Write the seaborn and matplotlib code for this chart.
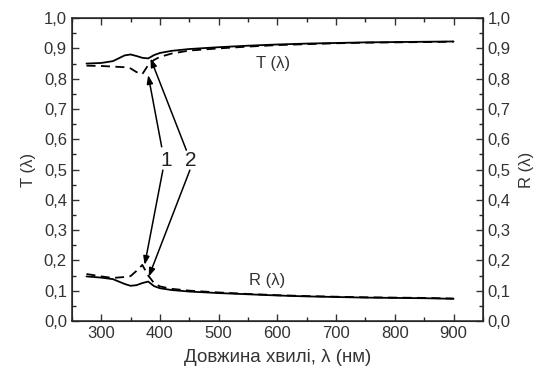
import numpy as np
import pandas as pd
import matplotlib
matplotlib.use("Agg")
import matplotlib.pyplot as plt
from matplotlib.ticker import MultipleLocator, FuncFormatter
import seaborn as sns

# -----------------------------
# Data
# -----------------------------
wavelength = [275, 300, 320, 340, 350, 360, 370, 380, 390, 400, 420, 450,
              500, 550, 600, 650, 700, 750, 800, 850, 900]

T_1 = [0.850, 0.852, 0.858, 0.877, 0.880, 0.875, 0.869, 0.867, 0.878, 0.885, 0.892, 0.898,
       0.904, 0.909, 0.913, 0.916, 0.918, 0.920, 0.921, 0.922, 0.923]
T_2 = [0.843, 0.842, 0.840, 0.838, 0.834, 0.822, 0.815, 0.845, 0.862, 0.872, 0.883, 0.893,
       0.900, 0.906, 0.911, 0.914, 0.917, 0.919, 0.920, 0.921, 0.922]

R_1 = [0.147, 0.143, 0.138, 0.122, 0.116, 0.118, 0.125, 0.130, 0.115, 0.108, 0.102, 0.097,
       0.092, 0.088, 0.084, 0.081, 0.079, 0.077, 0.076, 0.075, 0.073]
R_2 = [0.155, 0.147, 0.142, 0.145, 0.148, 0.165, 0.185, 0.150, 0.125, 0.114, 0.106, 0.100,
       0.094, 0.089, 0.085, 0.082, 0.080, 0.078, 0.077, 0.076, 0.074]

# -----------------------------
# Style
# -----------------------------
sns.set_style("ticks")
plt.rcParams['font.family'] = ['Liberation Sans', 'DejaVu Sans']
plt.rcParams['xtick.direction'] = 'in'
plt.rcParams['ytick.direction'] = 'in'

fig = plt.figure(figsize=(5.36, 3.78), dpi=100)
ax = fig.add_axes([0.134, 0.151, 0.767, 0.801])

series = [(T_1, "-"), (T_2, (0, (5, 3))), (R_1, "-"), (R_2, (0, (5, 3)))]
for vals, ls in series:
    sns.lineplot(x=wavelength, y=vals, ax=ax, color="black", lw=1.3,
                 linestyle=ls, legend=False)

ax.set_xlim(250, 950)
ax.set_ylim(0, 1.0)
ax.xaxis.set_major_locator(MultipleLocator(100))
ax.xaxis.set_minor_locator(MultipleLocator(50))
ax.yaxis.set_major_locator(MultipleLocator(0.1))
ax.yaxis.set_minor_locator(MultipleLocator(0.05))
comma = FuncFormatter(lambda v, p: f"{v:.1f}".replace(".", ","))
ax.yaxis.set_major_formatter(comma)
ax.tick_params(which="major", length=5, width=1, labelsize=12, colors="#333333",
               top=True)
ax.tick_params(which="minor", length=3, width=1, top=True)
for sp in ax.spines.values():
    sp.set_linewidth(1.1)
    sp.set_color("#222222")

ax.set_xlabel("Довжина хвилі, λ (нм)", fontsize=13.5, color="#333333", labelpad=6)
ax.set_ylabel("T (λ)", fontsize=12, color="#333333", labelpad=6)

ax2 = ax.twinx()
ax2.set_ylim(0, 1.0)
ax2.yaxis.set_major_locator(MultipleLocator(0.1))
ax2.yaxis.set_minor_locator(MultipleLocator(0.05))
ax2.yaxis.set_major_formatter(comma)
ax2.tick_params(which="major", length=5, width=1, labelsize=12, colors="#333333")
ax2.tick_params(which="minor", length=3, width=1)
ax2.set_ylabel("R (λ)", fontsize=12, color="#333333", labelpad=6)
ax2.yaxis.label.set_rotation(90)

# curve labels
ax.text(593, 0.851, "T (λ)", fontsize=12, color="#333333", ha="center", va="center")
ax.text(582, 0.135, "R (λ)", fontsize=12, color="#333333", ha="center", va="center")
ax.text(411, 0.531, "1", fontsize=15, color="#222222", ha="center", va="center")
ax.text(453, 0.531, "2", fontsize=15, color="#222222", ha="center", va="center")

arrow = dict(arrowstyle="-|>,head_length=0.5,head_width=0.18", color="black",
             lw=1.1, shrinkA=0, shrinkB=0)
ax.annotate("", xy=(380, 0.812), xytext=(403, 0.575), arrowprops=arrow)
ax.annotate("", xy=(384, 0.867), xytext=(445, 0.564), arrowprops=arrow)
ax.annotate("", xy=(374, 0.185), xytext=(405, 0.498), arrowprops=arrow)
ax.annotate("", xy=(381, 0.146), xytext=(451, 0.498), arrowprops=arrow)

fig.savefig("out.png", dpi=100)
